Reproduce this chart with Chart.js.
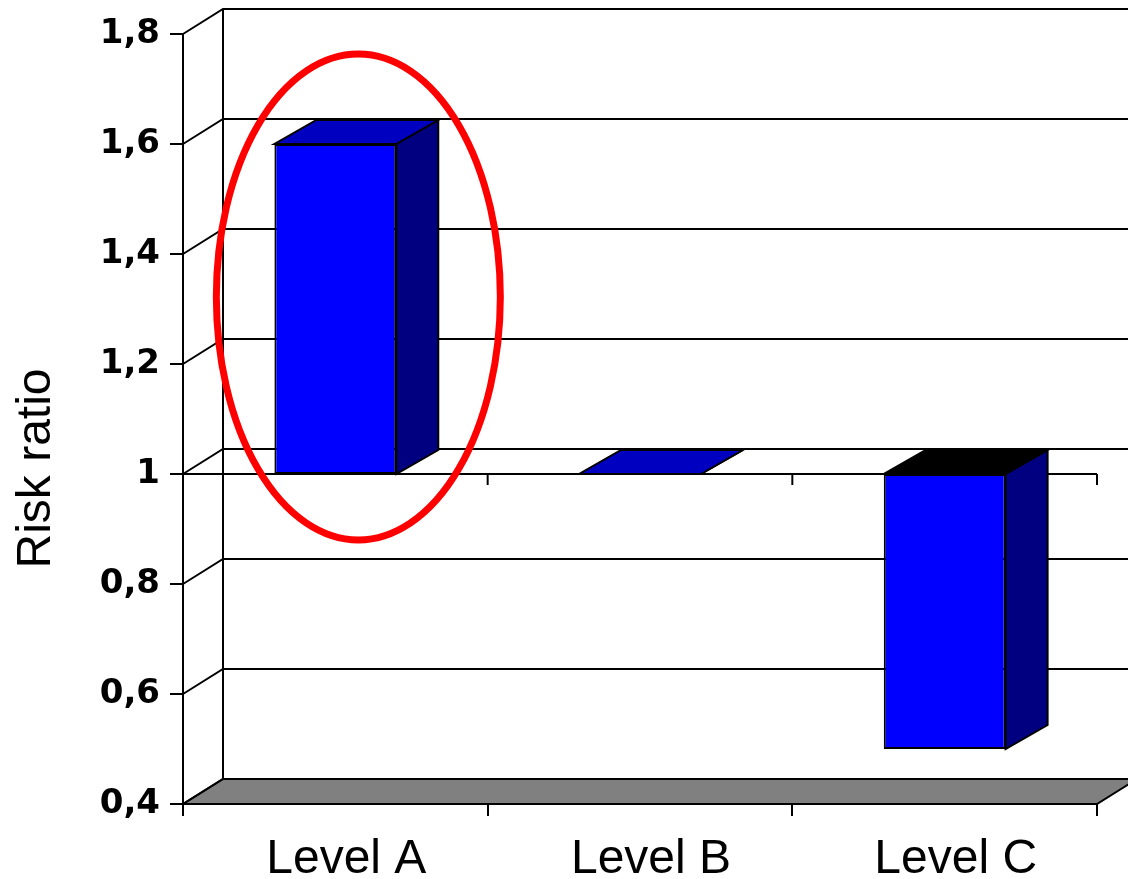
<!DOCTYPE html>
<html>
<head>
<meta charset="utf-8">
<script src="https://cdn.jsdelivr.net/npm/chart.js@4.4.1/dist/chart.umd.min.js"></script>
<style>
  html, body { margin: 0; padding: 0; background: #fff; }
  #wrap { width: 1128px; height: 879px; }
</style>
</head>
<body>
<div id="wrap"><canvas id="riskChart" width="1128" height="879"></canvas></div>
<script>
// data
const categories = ['Level A', 'Level B', 'Level C'];
const riskFrom = [1, 1, 0.5];
const riskTo = [1.6, 1, 1];
const yTickValues = [0.4, 0.6, 0.8, 1, 1.2, 1.4, 1.6, 1.8];
const crossAt = 1;
const yTitle = 'Risk ratio';

// 3D look: back wall, floor, bar sides and tops, red ellipse
const depthPlugin = {
    id: 'depth',
    beforeDatasetsDraw(chart) {
        const ctx = chart.ctx;
        const y = chart.scales.y;
        const area = chart.chartArea;
        const dx = 40, dy = -25;
        ctx.save();
        ctx.strokeStyle = '#000';
        ctx.lineWidth = 2;

        // floor
        const fy = y.getPixelForValue(y.min);
        ctx.fillStyle = '#808080';
        ctx.beginPath();
        ctx.moveTo(area.left, fy);
        ctx.lineTo(area.right, fy);
        ctx.lineTo(area.right + dx, fy + dy);
        ctx.lineTo(area.left + dx, fy + dy);
        ctx.closePath();
        ctx.fill();
        ctx.stroke();

        // back wall grid + side wall diagonals
        yTickValues.forEach(function(v) {
            const py = y.getPixelForValue(v);
            ctx.beginPath();
            ctx.moveTo(area.left, py);
            ctx.lineTo(area.left + dx, py + dy);
            ctx.lineTo(chart.width + 10, py + dy);
            ctx.stroke();
        });
        ctx.beginPath();
        ctx.moveTo(area.left + dx, y.getPixelForValue(y.max) + dy);
        ctx.lineTo(area.left + dx, fy + dy);
        ctx.stroke();

        // front axis line at the crossing value, with category ticks
        const cy = y.getPixelForValue(crossAt);
        const x = chart.scales.x;
        ctx.beginPath();
        ctx.moveTo(area.left, cy);
        ctx.lineTo(area.right, cy);
        ctx.stroke();
        for (let i = 1; i <= categories.length; i++) {
            const tx = x.getPixelForValue(i - 0.5);
            ctx.beginPath();
            ctx.moveTo(tx, cy);
            ctx.lineTo(tx, cy + 11);
            ctx.stroke();
        }

        // bar sides and tops
        const bdx = 42, bdy = -24;
        chart.getDatasetMeta(0).data.forEach(function(bar, i) {
            const p = bar.getProps(['x', 'y', 'base', 'width'], true);
            const l = p.x - p.width / 2, r = p.x + p.width / 2;
            const top = Math.min(p.y, p.base), bot = Math.max(p.y, p.base);
            ctx.lineWidth = 2;
            // side
            ctx.fillStyle = '#000080';
            ctx.beginPath();
            ctx.moveTo(r, top);
            ctx.lineTo(r + bdx, top + bdy);
            ctx.lineTo(r + bdx, bot + bdy);
            ctx.lineTo(r, bot);
            ctx.closePath();
            ctx.fill();
            ctx.stroke();
            // top
            ctx.fillStyle = riskFrom[i] < crossAt ? '#000000' : '#0000C0';
            ctx.beginPath();
            ctx.moveTo(l, top);
            ctx.lineTo(r, top);
            ctx.lineTo(r + bdx, top + bdy);
            ctx.lineTo(l + bdx, top + bdy);
            ctx.closePath();
            ctx.fill();
            ctx.stroke();
        });
        ctx.restore();
    },
    afterDraw(chart) {
        const ctx = chart.ctx;
        const cx = chart.scales.x.getPixelForValue(0) + 23;
        const cy = chart.scales.y.getPixelForValue(1.3) - 12;
        ctx.save();
        ctx.strokeStyle = '#FF0000';
        ctx.lineWidth = 7;
        ctx.beginPath();
        ctx.ellipse(cx, cy, 142, 243, 0, 0, Math.PI * 2);
        ctx.stroke();

        // axis title, sits lower than the axis centre
        ctx.translate(50, chart.scales.y.getPixelForValue(1.01));
        ctx.rotate(-Math.PI / 2);
        ctx.fillStyle = '#000';
        ctx.font = '48px "Liberation Sans"';
        ctx.textAlign = 'center';
        ctx.textBaseline = 'alphabetic';
        ctx.fillText(yTitle, 0, 0);
        ctx.restore();
    }
};

new Chart(document.getElementById('riskChart'), {
    type: 'bar',
    data: {
        labels: categories,
        datasets: [{
            data: categories.map(function(c, i) { return [riskFrom[i], riskTo[i]]; }),
            backgroundColor: '#0000FF',
            borderColor: '#000000',
            borderWidth: 2,
            borderSkipped: false,
            categoryPercentage: 1,
            barPercentage: 0.4
        }]
    },
    options: {
        responsive: false,
        animation: false,
        layout: { padding: { top: 34, right: 31, left: 0, bottom: 0 } },
        plugins: { legend: { display: false }, tooltip: { enabled: false } },
        scales: {
            x: {
                afterFit: function(s) { s.height = 75; },
                grid: { display: true, offset: true, drawOnChartArea: false, tickLength: 12, color: '#000', lineWidth: 2 },
                border: { display: true, color: '#000', width: 2 },
                ticks: { color: '#000', padding: 15, labelOffset: 11, font: { family: 'Liberation Sans', size: 48 } }
            },
            y: {
                min: 0.4,
                max: 1.8,
                afterFit: function(s) { s.width = 183; },
                afterBuildTicks: function(s) { s.ticks = yTickValues.map(function(v) { return { value: v }; }); },
                grid: { display: true, drawOnChartArea: false, tickLength: 13, color: '#000', lineWidth: 2 },
                border: { display: true, color: '#000', width: 2 },
                ticks: {
                    color: '#000',
                    padding: 10,
                    font: { family: 'DejaVu Sans', size: 34, weight: 'bold' },
                    callback: function(v) { return String(Number(v.toFixed(1))).replace('.', ','); }
                }
            }
        }
    },
    plugins: [depthPlugin]
});
</script>
</body>
</html>
